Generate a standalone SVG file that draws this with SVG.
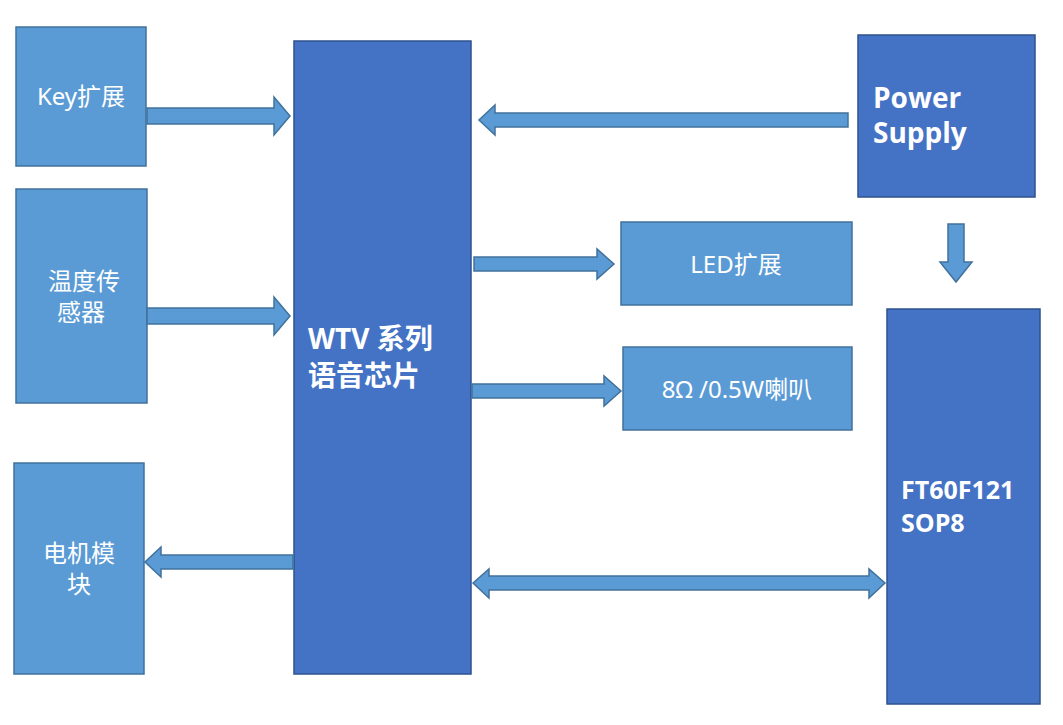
<svg xmlns="http://www.w3.org/2000/svg" width="1063" height="725" viewBox="0 0 1063 725">
<style>
.lb{fill:#5b9bd5;stroke:#41719c;stroke-width:1.5}
.db{fill:#4472c4;stroke:#2f528f;stroke-width:1.5}
.ar{fill:#5b9bd5;stroke:#41719c;stroke-width:1.5}
.t{font-family:"Noto Sans","Noto Sans CJK SC",sans-serif;font-size:24px;fill:#fff}
.b{font-family:"Open Sans","Noto Sans CJK SC",sans-serif;font-size:28px;font-weight:bold;fill:#fff}
.f{font-family:"Open Sans",sans-serif;font-size:25px;font-weight:bold;fill:#fff}
</style>
<rect width="1063" height="725" fill="#fff"/>
<g id="key"><rect class="lb" x="16" y="27" width="130" height="139"/><text class="t" x="81" y="105" text-anchor="middle">Key扩展</text></g>
<g id="temp"><rect class="lb" x="16" y="189" width="131" height="214"/><text class="t" x="84" y="290" text-anchor="middle">温度传</text><text class="t" x="81" y="321" text-anchor="middle">感器</text></g>
<g id="motor"><rect class="lb" x="14" y="463" width="130" height="211"/><text class="t" x="79" y="562" text-anchor="middle">电机模</text><text class="t" x="79" y="593" text-anchor="middle">块</text></g>
<g id="wtv"><rect class="db" x="294" y="41" width="177" height="633"/><text class="b" x="308" y="349">WTV 系列</text><text class="b" x="308" y="386">语音芯片</text></g>
<g id="power"><rect class="db" x="858" y="35" width="177" height="162"/><text class="b" x="873" y="108">Power</text><text class="b" x="873" y="143">Supply</text></g>
<g id="led"><rect class="lb" x="621" y="222" width="231" height="83"/><text class="t" x="736" y="273" text-anchor="middle">LED扩展</text></g>
<g id="spk"><rect class="lb" x="623" y="347" width="229" height="83"/><text class="t" x="737" y="398" text-anchor="middle">8Ω /0.5W喇叭</text></g>
<g id="ft"><rect class="db" x="887" y="309" width="153" height="395"/><text class="f" x="901" y="499">FT60F121</text><text class="f" x="901" y="532">SOP8</text></g>
<g id="connectors">
<polygon class="ar" points="147,108 274,108 274,97 290,116 274,135 274,124 147,124"/>
<polygon class="ar" points="147,308 274,308 274,297 290,316 274,335 274,324 147,324"/>
<polygon class="ar" points="848,113 495,113 495,105 479,120 495,135 495,127 848,127"/>
<polygon class="ar" points="474,257 597,257 597,249 614,264 597,279 597,271 474,271"/>
<polygon class="ar" points="472,384 604,384 604,376 621,391 604,406 604,398 472,398"/>
<polygon class="ar" points="293,555 161,555 161,547 145,562 161,577 161,569 293,569"/>
<polygon class="ar" points="473,583 489,569 489,576 869,576 869,569 885,583 869,598 869,590 489,590 489,598"/>
<polygon class="ar" points="948,224 964,224 964,262 972,262 956,282 940,262 948,262"/>
</g>
</svg>
